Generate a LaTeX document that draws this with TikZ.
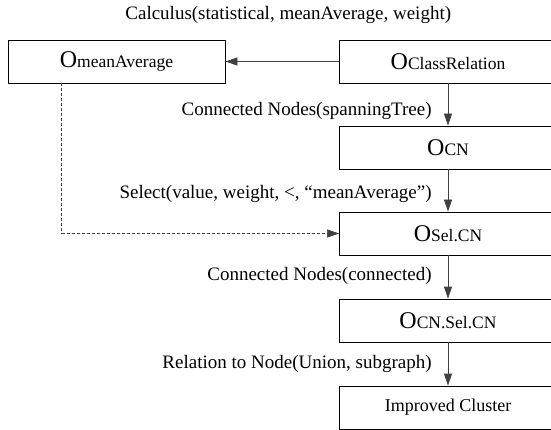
\documentclass[tikz,border=0pt]{standalone}
\usepackage{fontspec}
\setmainfont{Liberation Serif}
\usetikzlibrary{arrows.meta, positioning}
\newcommand{\onode}[1]{{\fontsize{24}{24}\selectfont O}{\fontsize{17.5}{18}\selectfont #1}}

\begin{document}
\begin{tikzpicture}[x=1pt, y=-1pt,
        box/.style={rectangle, draw, line width=0.8pt, minimum width=217pt, minimum height=43pt, inner sep=0pt, font=\fontsize{18}{20}\selectfont},
        lbl/.style={inner sep=0pt, text=black, font=\fontsize{19}{21}\selectfont},
        flow/.style={-{Triangle[length=12pt,width=8pt]}, line width=0.8pt, black!75}
    ]
        \useasboundingbox (0,0) rectangle (551,430);

        % Object boxes
        \node[box] (mean)  at (116.5, 61.5) {\onode{meanAverage}};
        \node[box] (cr)    at (448, 61.5)   {\onode{ClassRelation}};
        \node[box] (cn)    at (448, 147.5)  {\onode{CN}};
        \node[box] (sel)   at (448, 233.5)  {\onode{Sel.CN}};
        \node[box] (cnsel) at (448, 320.5)  {\onode{CN.Sel.CN}};
        \node[box] (impr)  at (448, 407.5)  {Improved Cluster};

        % Operations
        \draw[flow] (cr) -- node[lbl, above=37pt, xshift=6pt] {Calculus(statistical, meanAverage, weight)} (mean);
        \draw[flow] (cr) -- node[lbl, left=16pt, yshift=-6pt] {Connected Nodes(spanningTree)} (cn);
        \draw[flow] (cn) -- node[lbl, left=16pt, yshift=-3pt] {Select(value, weight, <, “meanAverage”)} (sel);
        \draw[flow] (sel) -- node[lbl, left=16pt, yshift=1pt] {Connected Nodes(connected)} (cnsel);
        \draw[flow] (cnsel) -- node[lbl, left=16pt] {Relation to Node(Union, subgraph)} (impr);

        % Threshold reuse
        \draw[flow, dashed, dash pattern=on 3pt off 2pt, line width=0.6pt] ([xshift=54pt]mean.south west) |- (sel);
    \end{tikzpicture}
\end{document}
